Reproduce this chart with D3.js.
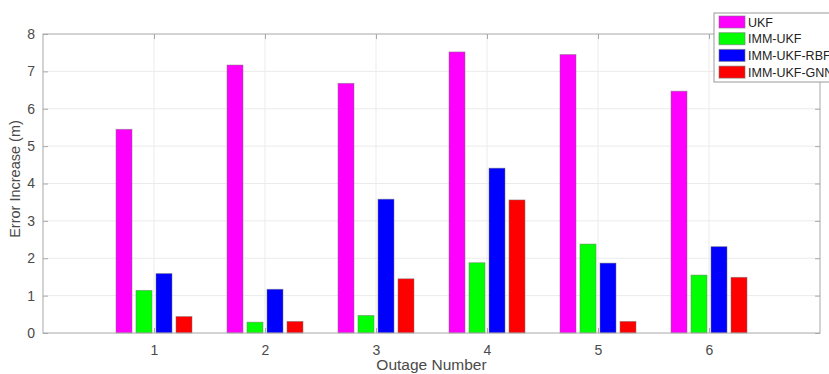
<!DOCTYPE html>
<html>
<head>
<meta charset="utf-8">
<script src="https://cdn.jsdelivr.net/npm/d3@7"></script>
<style>
  body { margin: 0; background: #fff; }
  text { font-family: "Liberation Sans", Arial, sans-serif; }
</style>
</head>
<body>
<svg id="chart" width="829" height="374"></svg>
<script>
const outages = [1, 2, 3, 4, 5, 6]
const seriesNames = ["UKF", "IMM-UKF", "IMM-UKF-RBF", "IMM-UKF-GNN"]
const seriesColors = ["#ff00ff", "#00ff00", "#0000ff", "#ff0000"]
const ukf = [5.45, 7.17, 6.68, 7.52, 7.45, 6.47]
const immUkf = [1.14, 0.29, 0.47, 1.88, 2.38, 1.55]
const immUkfRbf = [1.59, 1.17, 3.58, 4.41, 1.87, 2.31]
const immUkfGnn = [0.44, 0.31, 1.45, 3.56, 0.31, 1.49]
const yTicks = [0, 1, 2, 3, 4, 5, 6, 7, 8]

const series = [ukf, immUkf, immUkfRbf, immUkfGnn]

const pLeft = 43, pRight = 820, pTop = 34, pBottom = 333
const svg = d3.select("#chart")

const x = d3.scaleLinear().domain([0, 7]).range([pLeft, pRight])
const y = d3.scaleLinear().domain([0, 8]).range([pBottom, pTop])
const barW = 16, step = 20

// grid
svg.append("g").selectAll("line").data(yTicks.slice(1, -1)).enter().append("line")
  .attr("x1", pLeft).attr("x2", pRight)
  .attr("y1", d => y(d)).attr("y2", d => y(d))
  .attr("stroke", "#ebebeb").attr("stroke-width", 1)
svg.append("g").selectAll("line").data(outages).enter().append("line")
  .attr("x1", d => x(d)).attr("x2", d => x(d))
  .attr("y1", pTop).attr("y2", pBottom)
  .attr("stroke", "#ebebeb").attr("stroke-width", 1)

// bars
series.forEach((vals, si) => {
  svg.append("g").selectAll("rect").data(vals).enter().append("rect")
    .attr("x", (d, i) => x(outages[i]) + (si - 1.5) * step - barW / 2)
    .attr("y", d => y(d))
    .attr("width", barW)
    .attr("height", d => y(0) - y(d))
    .attr("fill", seriesColors[si])
    .attr("stroke", "#777")
    .attr("stroke-opacity", 0.6)
    .attr("stroke-width", 0.8)
})

// axes
const axisColor = "#a8a8a8"
const yAxis = d3.axisLeft(y).tickValues(yTicks).tickSize(-5).tickPadding(8).tickFormat(d3.format("d"))
const gy = svg.append("g").attr("transform", `translate(${pLeft},0)`).call(yAxis)
const yAxisR = d3.axisRight(y).tickValues(yTicks).tickSize(-5).tickFormat("")
const gyr = svg.append("g").attr("transform", `translate(${pRight},0)`).call(yAxisR)
const xAxis = d3.axisBottom(x).tickValues(outages).tickSize(-5).tickPadding(12).tickFormat(d3.format("d"))
const gx = svg.append("g").attr("transform", `translate(0,${pBottom})`).call(xAxis)
const xAxisT = d3.axisTop(x).tickValues(outages).tickSize(-5).tickFormat("")
const gxt = svg.append("g").attr("transform", `translate(0,${pTop})`).call(xAxisT)
;[gy, gyr, gx, gxt].forEach(g => {
  g.select(".domain").remove()
  g.selectAll(".tick line").attr("stroke", axisColor)
  g.selectAll("text").attr("fill", "#4a4a4a").style("font-size", "14px")
})
svg.append("rect").attr("x", pLeft).attr("y", pTop)
  .attr("width", pRight - pLeft).attr("height", pBottom - pTop)
  .attr("fill", "none").attr("stroke", axisColor).attr("stroke-width", 1)

// labels
svg.append("text").attr("x", (pLeft + pRight) / 2).attr("y", 370)
  .attr("text-anchor", "middle").attr("fill", "#4a4a4a").style("font-size", "15.5px")
  .text("Outage Number")
svg.append("text").attr("transform", "translate(20,179) rotate(-90)")
  .attr("text-anchor", "middle").attr("fill", "#4a4a4a").style("font-size", "14.5px")
  .text("Error Increase (m)")

// legend (cut off at the right edge, as in the source figure)
const lg = svg.append("g")
lg.append("rect").attr("x", 714).attr("y", 13).attr("width", 130).attr("height", 69)
  .attr("fill", "#fff").attr("stroke", "#999").attr("stroke-width", 1)
seriesNames.forEach((name, i) => {
  lg.append("rect").attr("x", 719).attr("y", 16 + i * 16.7).attr("width", 26).attr("height", 12)
    .attr("fill", seriesColors[i]).attr("stroke", "#777").attr("stroke-opacity", 0.6)
  lg.append("text").attr("x", 748).attr("y", 26.5 + i * 16.7)
    .attr("fill", "#222").style("font-size", "12.5px").text(name)
})
</script>
</body>
</html>
